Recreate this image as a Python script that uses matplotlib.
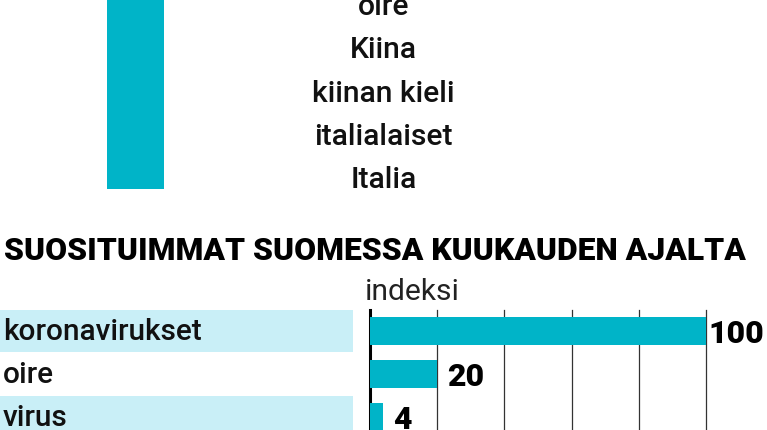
import matplotlib
matplotlib.use("Agg")
import matplotlib.pyplot as plt

plt.rcParams['font.family'] = ['Roboto', 'DejaVu Sans']

# data
top_terms = ["oire", "Kiina", "kiinan kieli", "italialaiset", "Italia"]
top_bar_value = [100]
title = "SUOSITUIMMAT SUOMESSA KUUKAUDEN AJALTA"
terms = ["koronavirukset", "oire", "virus"]
index_values = [100, 20, 4]
grid_ticks = [20, 40, 60, 80, 100]

TEAL = "#00b4c8"
LIGHT = "#c9eff7"
W, H = 767, 431

fig = plt.figure(figsize=(W / 100, H / 100), dpi=100)


def px_axes(x0, y0, x1, y1):
    # axes placed by pixel box (top-left origin)
    return fig.add_axes([x0 / W, 1 - y1 / H, (x1 - x0) / W, (y1 - y0) / H])


# cropped bar from the chart above
ax_top = px_axes(107, 0, 164, 190)
ax_top.bar([0], top_bar_value, width=1.0, color=TEAL)
ax_top.set_xlim(-0.5, 0.5)
ax_top.set_ylim(0, max(top_bar_value))
ax_top.axis("off")

for i, t in enumerate(top_terms):
    fig.text(383.5 / W, 1 - (15 + i * 43.3) / H, t, ha="center", va="baseline",
             fontsize=21.6, fontweight="medium", color="#111111")

fig.text(4 / W, 1 - 260 / H, title, ha="left", va="baseline",
         fontsize=22.9, fontweight="black", color="black")

fig.text(365 / W, 1 - 300 / H, "indeksi", ha="left", va="baseline",
         fontsize=21.6, color="#222222")

rows = list(range(len(terms)))
ylim = (2.302, -0.488)

# label column with striped background
ax_lab = px_axes(0, 311, 353, 431)
shaded = [r for r in rows if r % 2 == 0]
ax_lab.barh(shaded, [1] * len(shaded), height=1.0, color=LIGHT)
for r, t in zip(rows, terms):
    ax_lab.text(0.008, r + 0.18, t, ha="left", va="baseline", fontsize=21.4,
                fontweight="medium", color="#111111")
ax_lab.set_xlim(0, 1)
ax_lab.set_ylim(*ylim)
ax_lab.axis("off")

# bar chart
ax = px_axes(370, 311, 706, 431)
ax.barh(rows, index_values, height=0.65, color=TEAL, zorder=3)
ax.set_xlim(0, 100)
ax.set_ylim(*ylim)
ax.set_xticks(grid_ticks)
ax.set_yticks([])
ax.tick_params(axis="x", length=0, labelbottom=False)
ax.grid(axis="x", color="#333333", lw=0.9)
for gl in ax.get_xgridlines():
    gl.set_clip_on(False)
for s in ["top", "right", "bottom"]:
    ax.spines[s].set_visible(False)
ax.spines["left"].set_linewidth(2.2)
ax.spines["left"].set_color("black")
ax.patch.set_alpha(0)

for r, v in zip(rows, index_values):
    off = 2 if v == max(index_values) else 10
    ax.annotate(str(v), (v, r + 0.26), xytext=(off * 0.72, 0), textcoords="offset points",
                ha="left", va="baseline", fontsize=23, fontweight="black",
                color="black", annotation_clip=False)

fig.savefig("out.png", dpi=100)
